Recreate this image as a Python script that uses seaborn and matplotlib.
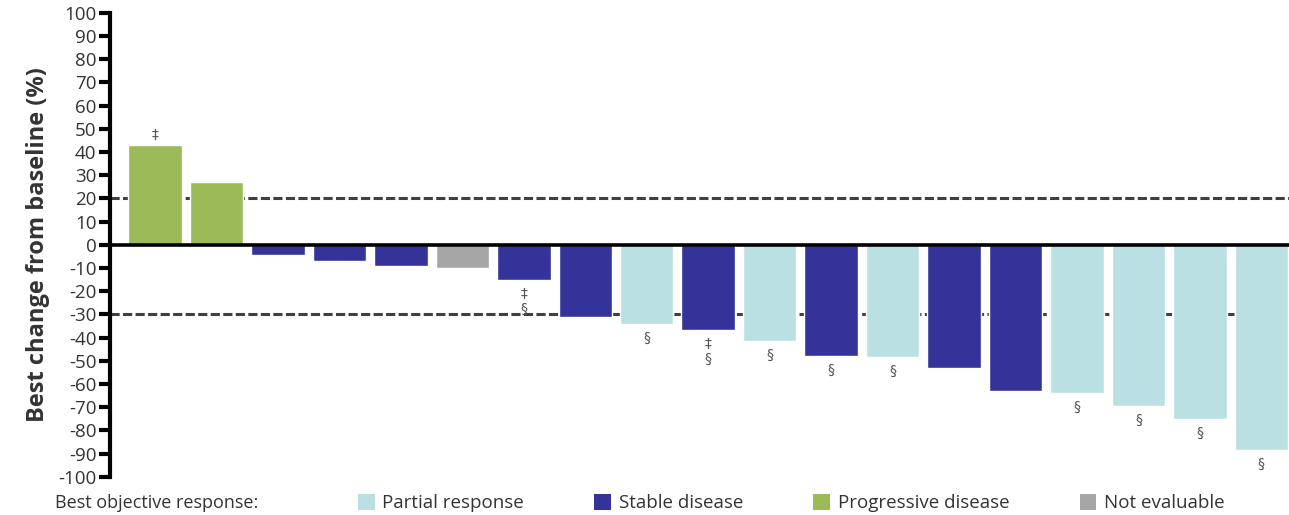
import matplotlib
matplotlib.use("Agg")
import matplotlib.pyplot as plt
from matplotlib.patches import Patch
import seaborn as sns
import pandas as pd

# Best percentage change from baseline per patient, sorted by magnitude
patients = [str(i) for i in range(1, 20)]
best_change = [43, 27, -4.5, -7, -9, -10, -15, -31, -34, -36.5, -41.5,
               -48, -48.5, -53, -63, -64, -69.5, -75, -88.5]
response = ["Progressive disease", "Progressive disease",
            "Stable disease", "Stable disease", "Stable disease",
            "Not evaluable", "Stable disease", "Stable disease",
            "Partial response", "Stable disease", "Partial response",
            "Stable disease", "Partial response", "Stable disease",
            "Stable disease", "Partial response", "Partial response",
            "Partial response", "Partial response"]
# Footnote markers shown beside each bar (lines stacked top to bottom)
footnotes = ["‡", "", "", "", "", "", "‡\n§", "", "§", "‡\n§", "§",
             "§", "§", "", "", "§", "§", "§", "§"]

legend_order = ["Partial response", "Stable disease",
                "Progressive disease", "Not evaluable"]
palette = {"Partial response": "#BBE0E3", "Stable disease": "#343399",
           "Progressive disease": "#9BBB59", "Not evaluable": "#A6A6A6"}

df = pd.DataFrame({"patient": patients, "change": best_change,
                   "response": response})

sns.set_style("white")
plt.rcParams["font.family"] = ["Open Sans", "DejaVu Sans"]
plt.rcParams["axes.unicode_minus"] = False
text_color = "#333333"

fig = plt.figure(figsize=(12.89, 5.15), dpi=100)
ax = fig.add_axes([0.0855, 0.074, 0.9145, 0.901])

# Threshold lines for progression (+20%) and response (-30%)
for level in (20, -30):
    ax.axhline(level, color="#404040", lw=2.2, dashes=(3, 1.1), zorder=0)

sns.barplot(data=df, x="patient", y="change", hue="response",
            order=patients, palette=palette, dodge=False, width=0.87,
            saturation=1, legend=False, ax=ax, zorder=2)

ax.axhline(0, color="black", lw=2.6, zorder=3)

for i, (val, note) in enumerate(zip(best_change, footnotes)):
    if not note:
        continue
    if val >= 0:
        ax.annotate(note, (i, val), xytext=(0, 2), textcoords="offset points",
                    ha="center", va="bottom", fontsize=10, color="#555555",
                    family="DejaVu Sans", linespacing=1.1)
    else:
        ax.annotate(note, (i, val), xytext=(0, -5), textcoords="offset points",
                    ha="center", va="top", fontsize=10, color="#555555",
                    family="DejaVu Sans", linespacing=1.1)

ax.set_ylim(-100, 100)
ax.set_xlim(-0.73, 18.45)
ax.set_yticks(range(-100, 101, 10))
ax.set_xticks([])
ax.set_xlabel("")
ax.set_ylabel("Best change from baseline (%)", fontsize=17,
              fontweight="bold", color=text_color, labelpad=6)
ax.tick_params(axis="y", direction="out", length=8, width=3, color="black",
               labelsize=13.5, labelcolor=text_color, pad=2, left=True)
for side in ("top", "right", "bottom"):
    ax.spines[side].set_visible(False)
ax.spines["left"].set_linewidth(3)
ax.spines["left"].set_color("black")

# Response legend along the bottom
fig.text(0.043, 0.023, "Best objective response:", fontsize=13,
         color=text_color, va="center", ha="left")
handles = [Patch(facecolor=palette[k], edgecolor="none") for k in legend_order]
fig.legend(handles, legend_order, loc="center left",
           bbox_to_anchor=(0.2775, 0.023), ncol=4, frameon=False,
           fontsize=13.5, handlelength=0.9, handleheight=0.9,
           handletextpad=0.4, columnspacing=3.75, labelcolor=text_color,
           borderaxespad=0, borderpad=0)

fig.savefig("out.png", dpi=100)
